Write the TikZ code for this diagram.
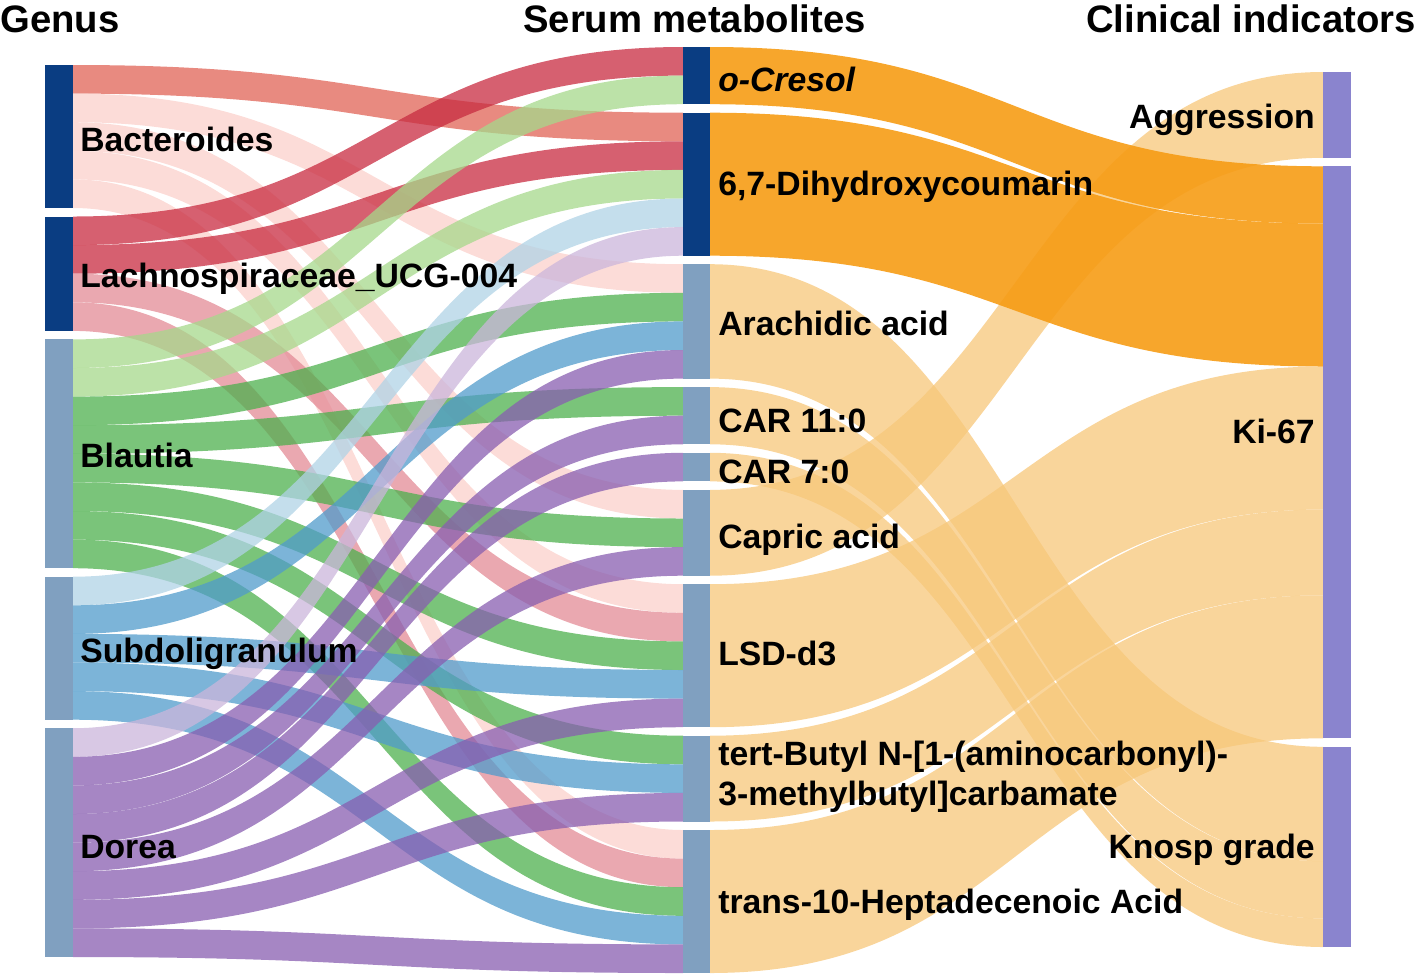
\documentclass[tikz,border=0pt]{standalone}
\usepackage{fontspec}
\setmainfont{Liberation Sans}
\definecolor{ndark}{RGB}{10,61,130}
\definecolor{nlight}{RGB}{128,160,192}
\definecolor{npur}{RGB}{138,132,206}
\definecolor{salmon}{RGB}{224,99,86}
\definecolor{lpink}{RGB}{251,208,203}
\definecolor{crim}{RGB}{200,43,64}
\definecolor{pink}{RGB}{227,139,150}
\definecolor{lgreen}{RGB}{166,216,139}
\definecolor{green}{RGB}{78,176,78}
\definecolor{lblue}{RGB}{176,211,230}
\definecolor{blue}{RGB}{80,155,203}
\definecolor{lpurp}{RGB}{203,182,219}
\definecolor{purp}{RGB}{136,94,176}
\definecolor{odark}{RGB}{246,156,21}
\definecolor{olight}{RGB}{247,199,122}
\def\U{28.6}
\newcommand\flow[8]{%
 \pgfmathsetmacro\fya{#3+#4*\U}\pgfmathsetmacro\fyb{\fya+#8*\U}%
 \pgfmathsetmacro\fyc{#6+#7*\U}\pgfmathsetmacro\fyd{\fyc+#8*\U}%
 \pgfmathsetmacro\fxm{(#2+#5)/2}%
 \fill[#1] (#2,\fya) .. controls (\fxm,\fya) and (\fxm,\fyc) .. (#5,\fyc) -- (#5,\fyd) .. controls (\fxm,\fyd) and (\fxm,\fyb) .. (#2,\fyb) -- cycle;}
\newcommand\gl[5]{\flow{#1}{73}{#2}{#3}{683}{#4}{#5}{1}}
\newcommand\gr[5]{\flow{#1}{710}{#2}{0}{1323}{#3}{#4}{#5}}
\tikzset{
 lk/.style={fill=#1, fill opacity=0.75},
 rk/.style={fill=#1, fill opacity=0.75},
 rkd/.style={fill=#1, fill opacity=0.9},
 bar/.style={rectangle, inner sep=0pt, outer sep=0pt, anchor=north west, minimum width=21pt, fill=#1},
 mbar/.style={rectangle, inner sep=0pt, outer sep=0pt, anchor=north west, minimum width=20.25pt, fill=#1},
 lbl/.style={anchor=base west, inner sep=0pt, font=\fontsize{25.3}{30}\selectfont\bfseries},
 rlbl/.style={anchor=base east, inner sep=0pt, font=\fontsize{25.3}{30}\selectfont\bfseries},
 ttl/.style={inner sep=0pt, font=\fontsize{28.7}{34}\selectfont\bfseries},
}
\begin{document}
\begin{tikzpicture}[x=0.75pt,y=-0.75pt]
\useasboundingbox (0,0) rectangle (1417,976);
% ---- genus -> metabolite links
% Bacteroides
\gl{lk=salmon}{65}{0}{112.7}{0}
\gl{lk=lpink}{65}{1}{264.2}{0}
\gl{lk=lpink}{65}{2}{489.9}{0}
\gl{lk=lpink}{65}{3}{584.2}{0}
\gl{lk=lpink}{65}{4}{830}{0}
% Lachnospiraceae
\gl{lk=crim}{216.5}{0}{47}{0}
\gl{lk=crim}{216.5}{1}{112.7}{1}
\gl{lk=pink}{216.5}{2}{584.2}{1}
\gl{lk=pink}{216.5}{3}{830}{1}
% Blautia
\gl{lk=lgreen}{339.4}{0}{47}{1}
\gl{lk=lgreen}{339.4}{1}{112.7}{2}
\gl{lk=green}{339.4}{2}{264.2}{1}
\gl{lk=green}{339.4}{3}{387.1}{0}
\gl{lk=green}{339.4}{4}{489.9}{1}
\gl{lk=green}{339.4}{5}{584.2}{2}
\gl{lk=green}{339.4}{6}{735.7}{0}
\gl{lk=green}{339.4}{7}{830}{2}
% Subdoligranulum
\gl{lk=lblue}{576.7}{0}{112.7}{3}
\gl{lk=blue}{576.7}{1}{264.2}{2}
\gl{lk=blue}{576.7}{2}{584.2}{3}
\gl{lk=blue}{576.7}{3}{735.7}{1}
\gl{lk=blue}{576.7}{4}{830}{3}
% Dorea
\gl{lk=lpurp}{728.2}{0}{112.7}{4}
\gl{lk=purp}{728.2}{1}{264.2}{3}
\gl{lk=purp}{728.2}{2}{387.1}{1}
\gl{lk=purp}{728.2}{3}{452.8}{0}
\gl{lk=purp}{728.2}{4}{489.9}{2}
\gl{lk=purp}{728.2}{5}{584.2}{4}
\gl{lk=purp}{728.2}{6}{735.7}{2}
\gl{lk=purp}{728.2}{7}{830}{4}
% ---- metabolite -> clinical links
\gr{rk=olight}{264.2}{746.8}{0}{4}
\gr{rk=olight}{387.1}{746.8}{4}{2}
\gr{rk=olight}{452.8}{746.8}{6}{1}
\gr{rk=olight}{489.9}{72}{0}{3}
\gr{rk=olight}{584.2}{166.3}{7}{5}
\gr{rk=olight}{735.7}{166.3}{12}{3}
\gr{rk=olight}{830}{166.3}{15}{5}
\gr{rkd=odark}{47}{166.3}{0}{2}
\gr{rkd=odark}{112.7}{166.3}{2}{5}
% ---- node bars
\node[bar=ndark, minimum height=107.25pt] (bact) at (45,65) {};
\node[bar=ndark, minimum height=85.8pt] (lach) at (45,216.5) {};
\node[bar=nlight, minimum height=171.6pt] (blau) at (45,339.4) {};
\node[bar=nlight, minimum height=107.25pt] (subd) at (45,576.7) {};
\node[bar=nlight, minimum height=171.6pt] (dore) at (45,728.2) {};
\node[mbar=ndark, minimum height=42.9pt] (ocre) at (683,47) {};
\node[mbar=ndark, minimum height=107.25pt] (dhc) at (683,112.7) {};
\node[mbar=nlight, minimum height=85.8pt] (arac) at (683,264.2) {};
\node[mbar=nlight, minimum height=42.9pt] (car11) at (683,387.1) {};
\node[mbar=nlight, minimum height=21.45pt] (car7) at (683,452.8) {};
\node[mbar=nlight, minimum height=64.35pt] (capr) at (683,489.9) {};
\node[mbar=nlight, minimum height=107.25pt] (lsd) at (683,584.2) {};
\node[mbar=nlight, minimum height=64.35pt] (tbut) at (683,735.7) {};
\node[mbar=nlight, minimum height=107.25pt] (trans) at (683,830) {};
\node[bar=npur, minimum height=64.35pt] (aggr) at (1323,72) {};
\node[bar=npur, minimum height=429pt] (ki) at (1323,166.3) {};
\node[bar=npur, minimum height=150.15pt] (knosp) at (1323,746.8) {};
% ---- titles
\node[ttl, anchor=base west] (tg) at (0,32) {Genus};
\node[ttl, anchor=base west] (tm) at (523,32) {Serum metabolites};
\node[ttl, anchor=base east] (tc) at (1416,32) {Clinical indicators};
% ---- labels
\node[lbl] (lbact) at (80,151) {Bacteroides};
\node[lbl] (llach) at (80,287) {Lachnospiraceae\_UCG-004};
\node[lbl] (lblau) at (80,467) {Blautia};
\node[lbl] (lsubd) at (80,662) {Subdoligranulum};
\node[lbl] (ldore) at (80,858) {Dorea};
\node[lbl] (locre) at (718,91) {\itshape o-Cresol};
\node[lbl] (ldhc) at (718,195) {6,7-Dihydroxycoumarin};
\node[lbl] (larac) at (718,335) {Arachidic acid};
\node[lbl] (lcar11) at (718,432) {CAR 11:0};
\node[lbl] (lcar7) at (718,483) {CAR 7:0};
\node[lbl] (lcapr) at (718,548) {Capric acid};
\node[lbl] (llsd) at (718,665) {LSD-d3};
\node[lbl] (ltbut1) at (718,765) {tert-Butyl N-[1-(aminocarbonyl)-};
\node[lbl] (ltbut2) at (718,805) {3-methylbutyl]carbamate};
\node[lbl] (ltrans) at (718,913) {trans-10-Heptadecenoic Acid};
\node[rlbl] (laggr) at (1315,128) {Aggression};
\node[rlbl] (lki) at (1315,443) {Ki-67};
\node[rlbl] (lknosp) at (1315,858) {Knosp grade};
\end{tikzpicture}
\end{document}
